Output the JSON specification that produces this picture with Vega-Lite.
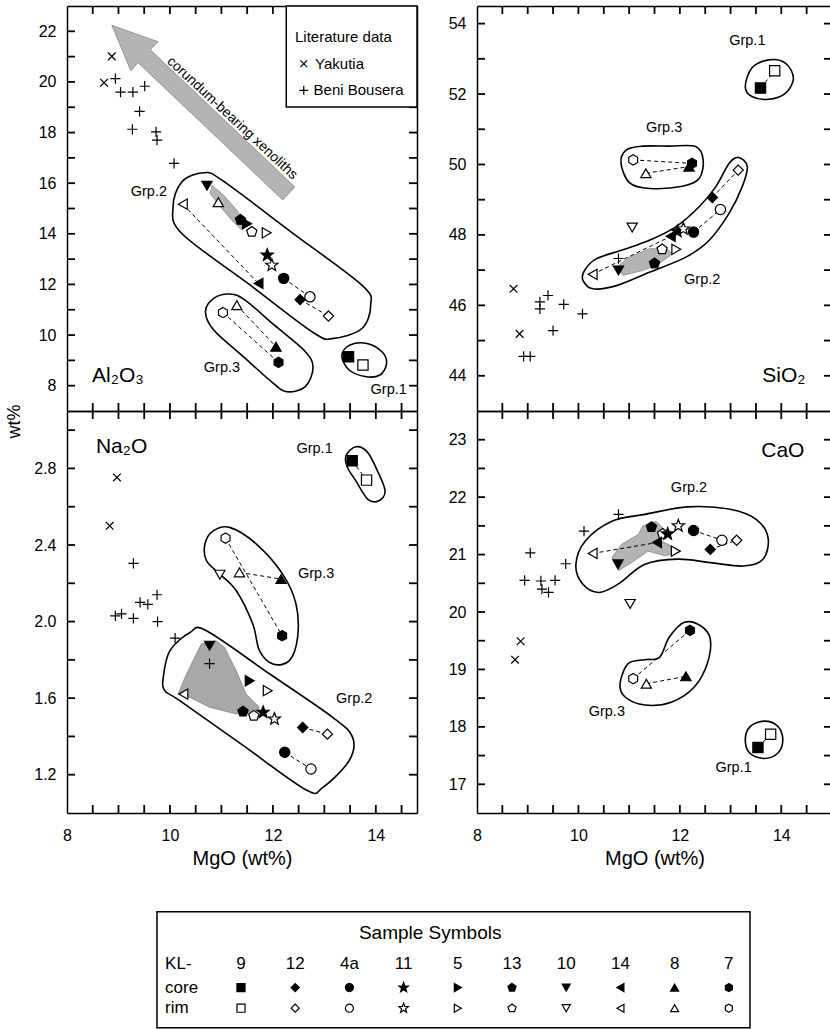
{
"$schema":"https://vega.github.io/schema/vega-lite/v6.json",
"padding":{"left":5,"top":5,"right":0,"bottom":0},
"background":"white",
"config":{
 "font":"Liberation Sans",
 "view":{"stroke":null},
 "axis":{"domainColor":"black","domainWidth":1.5,"tickColor":"black","tickWidth":1.4,"labelFont":"Liberation Sans","labelFontSize":16,"labelColor":"black","labelOverlap":false,"labelFlush":false,"grid":false,"zindex":1,"titleFont":"Liberation Sans","titleFontSize":20,"titleFontWeight":"normal","titleColor":"black"},
 "axisY":{"labelPadding":11},
 "axisX":{"labelPadding":14},
 "text":{"font":"Liberation Sans","color":"black"}
},
"datasets":{
"xt":[{"v":8.5},{"v":9},{"v":9.5},{"v":10},{"v":10.5},{"v":11},{"v":11.5},{"v":12},{"v":12.5},{"v":13},{"v":13.5},{"v":14},{"v":14.5}],
"yt":[
{"p":"Al","v":8},{"p":"Al","v":9},{"p":"Al","v":10},{"p":"Al","v":11},{"p":"Al","v":12},{"p":"Al","v":13},{"p":"Al","v":14},{"p":"Al","v":15},{"p":"Al","v":16},{"p":"Al","v":17},{"p":"Al","v":18},{"p":"Al","v":19},{"p":"Al","v":20},{"p":"Al","v":21},{"p":"Al","v":22},
{"p":"Si","v":44},{"p":"Si","v":45},{"p":"Si","v":46},{"p":"Si","v":47},{"p":"Si","v":48},{"p":"Si","v":49},{"p":"Si","v":50},{"p":"Si","v":51},{"p":"Si","v":52},{"p":"Si","v":53},{"p":"Si","v":54},
{"p":"Na","v":1.2},{"p":"Na","v":1.4},{"p":"Na","v":1.6},{"p":"Na","v":1.8},{"p":"Na","v":2.0},{"p":"Na","v":2.2},{"p":"Na","v":2.4},{"p":"Na","v":2.6},{"p":"Na","v":2.8},{"p":"Na","v":3.0},
{"p":"Ca","v":17},{"p":"Ca","v":17.5},{"p":"Ca","v":18},{"p":"Ca","v":18.5},{"p":"Ca","v":19},{"p":"Ca","v":19.5},{"p":"Ca","v":20},{"p":"Ca","v":20.5},{"p":"Ca","v":21},{"p":"Ca","v":21.5},{"p":"Ca","v":22},{"p":"Ca","v":22.5},{"p":"Ca","v":23}
],
"pts":[
{"p":"Al","s":"Yakutia","t":"lit","x":8.87,"y":21.01},{"p":"Al","s":"Yakutia","t":"lit","x":8.72,"y":19.97},
{"p":"Al","s":"Beni","t":"lit","x":8.94,"y":20.13},{"p":"Al","s":"Beni","t":"lit","x":9.04,"y":19.6},{"p":"Al","s":"Beni","t":"lit","x":9.28,"y":19.6},{"p":"Al","s":"Beni","t":"lit","x":9.51,"y":19.83},{"p":"Al","s":"Beni","t":"lit","x":9.41,"y":18.84},{"p":"Al","s":"Beni","t":"lit","x":9.27,"y":18.13},{"p":"Al","s":"Beni","t":"lit","x":9.73,"y":18.03},{"p":"Al","s":"Beni","t":"lit","x":9.75,"y":17.7},{"p":"Al","s":"Beni","t":"lit","x":10.08,"y":16.78},
{"p":"Al","s":"9","t":"core","x":13.47,"y":9.14},{"p":"Al","s":"9","t":"rim","x":13.75,"y":8.82},
{"p":"Al","s":"7","t":"rim","x":11.03,"y":10.89},{"p":"Al","s":"7","t":"core","x":12.11,"y":8.92},{"p":"Al","s":"8","t":"rim","x":11.3,"y":11.18},{"p":"Al","s":"8","t":"core","x":12.06,"y":9.54},
{"p":"Al","s":"10","t":"core","x":10.72,"y":15.9},{"p":"Al","s":"8","t":"rim","x":10.94,"y":15.25},{"p":"Al","s":"14","t":"rim","x":10.25,"y":15.17},{"p":"Al","s":"14","t":"core","x":11.72,"y":12.04},{"p":"Al","s":"13","t":"core","x":11.37,"y":14.55},{"p":"Al","s":"5","t":"core","x":11.5,"y":14.4},{"p":"Al","s":"13","t":"rim","x":11.59,"y":14.08},{"p":"Al","s":"5","t":"rim","x":11.88,"y":14.04},{"p":"Al","s":"11","t":"core","x":11.89,"y":13.16},{"p":"Al","s":"11","t":"rim","x":11.98,"y":12.76},{"p":"Al","s":"4a","t":"core","x":12.21,"y":12.24},{"p":"Al","s":"4a","t":"rim","x":12.72,"y":11.51},{"p":"Al","s":"12","t":"core","x":12.53,"y":11.4},{"p":"Al","s":"12","t":"rim","x":13.08,"y":10.75},
{"p":"Si","s":"Yakutia","t":"lit","x":8.72,"y":46.47},{"p":"Si","s":"Yakutia","t":"lit","x":8.84,"y":45.19},
{"p":"Si","s":"Beni","t":"lit","x":9.24,"y":46.1},{"p":"Si","s":"Beni","t":"lit","x":9.24,"y":45.9},{"p":"Si","s":"Beni","t":"lit","x":9.4,"y":46.28},{"p":"Si","s":"Beni","t":"lit","x":9.71,"y":46.03},{"p":"Si","s":"Beni","t":"lit","x":10.08,"y":45.76},{"p":"Si","s":"Beni","t":"lit","x":9.5,"y":45.28},{"p":"Si","s":"Beni","t":"lit","x":8.92,"y":44.55},{"p":"Si","s":"Beni","t":"lit","x":9.05,"y":44.55},{"p":"Si","s":"Beni","t":"lit","x":10.79,"y":47.33},
{"p":"Si","s":"9","t":"core","x":13.59,"y":52.17},{"p":"Si","s":"9","t":"rim","x":13.87,"y":52.66},
{"p":"Si","s":"7","t":"rim","x":11.08,"y":50.13},{"p":"Si","s":"8","t":"core","x":12.18,"y":49.94},{"p":"Si","s":"7","t":"core","x":12.24,"y":50.03},{"p":"Si","s":"8","t":"rim","x":11.33,"y":49.75},
{"p":"Si","s":"14","t":"rim","x":10.28,"y":46.88},{"p":"Si","s":"10","t":"core","x":10.79,"y":46.99},{"p":"Si","s":"13","t":"core","x":11.5,"y":47.19},{"p":"Si","s":"13","t":"rim","x":11.65,"y":47.59},{"p":"Si","s":"5","t":"rim","x":11.93,"y":47.59},{"p":"Si","s":"14","t":"core","x":11.82,"y":47.96},{"p":"Si","s":"11","t":"core","x":11.95,"y":48.1},{"p":"Si","s":"11","t":"rim","x":12.07,"y":48.17},{"p":"Si","s":"4a","t":"core","x":12.27,"y":48.08},{"p":"Si","s":"4a","t":"rim","x":12.8,"y":48.72},{"p":"Si","s":"12","t":"core","x":12.64,"y":49.06},{"p":"Si","s":"12","t":"rim","x":13.15,"y":49.84},{"p":"Si","s":"10","t":"rim","x":11.06,"y":48.21},
{"p":"Na","s":"Yakutia","t":"lit","x":8.97,"y":2.753},{"p":"Na","s":"Yakutia","t":"lit","x":8.83,"y":2.5},
{"p":"Na","s":"Beni","t":"lit","x":9.29,"y":2.304},{"p":"Na","s":"Beni","t":"lit","x":8.94,"y":2.03},{"p":"Na","s":"Beni","t":"lit","x":9.06,"y":2.04},{"p":"Na","s":"Beni","t":"lit","x":9.29,"y":2.017},{"p":"Na","s":"Beni","t":"lit","x":9.42,"y":2.1},{"p":"Na","s":"Beni","t":"lit","x":9.57,"y":2.09},{"p":"Na","s":"Beni","t":"lit","x":9.75,"y":2.14},{"p":"Na","s":"Beni","t":"lit","x":9.76,"y":2.0},{"p":"Na","s":"Beni","t":"lit","x":10.1,"y":1.914},{"p":"Na","s":"Beni","t":"lit","x":10.77,"y":1.78},
{"p":"Na","s":"9","t":"core","x":13.54,"y":2.84},{"p":"Na","s":"9","t":"rim","x":13.82,"y":2.739},
{"p":"Na","s":"7","t":"rim","x":11.08,"y":2.436},{"p":"Na","s":"7","t":"core","x":12.18,"y":1.926},{"p":"Na","s":"10","t":"rim","x":10.97,"y":2.245},{"p":"Na","s":"8","t":"rim","x":11.35,"y":2.257},{"p":"Na","s":"8","t":"core","x":12.16,"y":2.222},
{"p":"Na","s":"10","t":"core","x":10.77,"y":1.874},{"p":"Na","s":"14","t":"rim","x":10.26,"y":1.621},{"p":"Na","s":"5","t":"core","x":11.55,"y":1.691},{"p":"Na","s":"5","t":"rim","x":11.9,"y":1.639},{"p":"Na","s":"13","t":"core","x":11.42,"y":1.53},{"p":"Na","s":"13","t":"rim","x":11.63,"y":1.508},{"p":"Na","s":"11","t":"core","x":11.81,"y":1.526},{"p":"Na","s":"11","t":"rim","x":12.03,"y":1.491},{"p":"Na","s":"12","t":"core","x":12.58,"y":1.447},{"p":"Na","s":"12","t":"rim","x":13.06,"y":1.412},{"p":"Na","s":"4a","t":"core","x":12.23,"y":1.317},{"p":"Na","s":"4a","t":"rim","x":12.74,"y":1.23},
{"p":"Ca","s":"Yakutia","t":"lit","x":8.75,"y":19.17},{"p":"Ca","s":"Yakutia","t":"lit","x":8.86,"y":19.49},
{"p":"Ca","s":"Beni","t":"lit","x":8.94,"y":20.55},{"p":"Ca","s":"Beni","t":"lit","x":9.05,"y":21.03},{"p":"Ca","s":"Beni","t":"lit","x":9.26,"y":20.54},{"p":"Ca","s":"Beni","t":"lit","x":9.28,"y":20.4},{"p":"Ca","s":"Beni","t":"lit","x":9.41,"y":20.34},{"p":"Ca","s":"Beni","t":"lit","x":9.54,"y":20.55},{"p":"Ca","s":"Beni","t":"lit","x":9.75,"y":20.84},{"p":"Ca","s":"Beni","t":"lit","x":10.11,"y":21.41},{"p":"Ca","s":"Beni","t":"lit","x":10.79,"y":21.7},
{"p":"Ca","s":"9","t":"core","x":13.54,"y":17.64},{"p":"Ca","s":"9","t":"rim","x":13.79,"y":17.87},
{"p":"Ca","s":"7","t":"core","x":12.2,"y":19.68},{"p":"Ca","s":"7","t":"rim","x":11.08,"y":18.84},{"p":"Ca","s":"8","t":"rim","x":11.34,"y":18.75},{"p":"Ca","s":"8","t":"core","x":12.12,"y":18.88},{"p":"Ca","s":"10","t":"rim","x":11.02,"y":20.14},
{"p":"Ca","s":"14","t":"rim","x":10.28,"y":21.02},{"p":"Ca","s":"10","t":"core","x":10.78,"y":20.83},{"p":"Ca","s":"13","t":"core","x":11.44,"y":21.48},{"p":"Ca","s":"13","t":"rim","x":11.66,"y":21.36},{"p":"Ca","s":"14","t":"core","x":11.55,"y":21.21},{"p":"Ca","s":"11","t":"core","x":11.76,"y":21.36},{"p":"Ca","s":"11","t":"rim","x":11.97,"y":21.5},{"p":"Ca","s":"4a","t":"core","x":12.27,"y":21.42},{"p":"Ca","s":"4a","t":"rim","x":12.83,"y":21.25},{"p":"Ca","s":"12","t":"rim","x":13.12,"y":21.25},{"p":"Ca","s":"12","t":"core","x":12.6,"y":21.09},{"p":"Ca","s":"5","t":"rim","x":11.92,"y":21.06}
],
"ties":[
{"p":"Al","id":"a1","x":10.25,"y":15.17},{"p":"Al","id":"a1","x":11.72,"y":12.04},
{"p":"Al","id":"a2","x":12.21,"y":12.24},{"p":"Al","id":"a2","x":12.72,"y":11.51},
{"p":"Al","id":"a3","x":12.53,"y":11.4},{"p":"Al","id":"a3","x":13.08,"y":10.75},
{"p":"Al","id":"a4","x":11.03,"y":10.89},{"p":"Al","id":"a4","x":12.11,"y":8.92},
{"p":"Al","id":"a5","x":11.3,"y":11.18},{"p":"Al","id":"a5","x":12.06,"y":9.54},
{"p":"Si","id":"s1","x":13.59,"y":52.17},{"p":"Si","id":"s1","x":13.87,"y":52.66},
{"p":"Si","id":"s2","x":11.08,"y":50.13},{"p":"Si","id":"s2","x":12.24,"y":50.03},
{"p":"Si","id":"s3","x":11.33,"y":49.75},{"p":"Si","id":"s3","x":12.18,"y":49.94},
{"p":"Si","id":"s4","x":10.28,"y":46.88},{"p":"Si","id":"s4","x":11.82,"y":47.96},
{"p":"Si","id":"s5","x":12.27,"y":48.08},{"p":"Si","id":"s5","x":12.8,"y":48.72},
{"p":"Si","id":"s6","x":12.64,"y":49.06},{"p":"Si","id":"s6","x":13.15,"y":49.84},
{"p":"Na","id":"n1","x":13.54,"y":2.84},{"p":"Na","id":"n1","x":13.82,"y":2.739},
{"p":"Na","id":"n2","x":11.08,"y":2.436},{"p":"Na","id":"n2","x":12.18,"y":1.926},
{"p":"Na","id":"n3","x":11.35,"y":2.257},{"p":"Na","id":"n3","x":12.16,"y":2.222},
{"p":"Na","id":"n4","x":12.58,"y":1.447},{"p":"Na","id":"n4","x":13.06,"y":1.412},
{"p":"Na","id":"n5","x":12.23,"y":1.317},{"p":"Na","id":"n5","x":12.74,"y":1.23},
{"p":"Ca","id":"c1","x":13.54,"y":17.64},{"p":"Ca","id":"c1","x":13.79,"y":17.87},
{"p":"Ca","id":"c2","x":12.2,"y":19.68},{"p":"Ca","id":"c2","x":11.08,"y":18.84},
{"p":"Ca","id":"c3","x":11.34,"y":18.75},{"p":"Ca","id":"c3","x":12.12,"y":18.88},
{"p":"Ca","id":"c4","x":10.28,"y":21.02},{"p":"Ca","id":"c4","x":11.55,"y":21.21},
{"p":"Ca","id":"c5","x":12.27,"y":21.42},{"p":"Ca","id":"c5","x":12.83,"y":21.25},
{"p":"Ca","id":"c6","x":12.6,"y":21.09},{"p":"Ca","id":"c6","x":13.12,"y":21.25}
],
"env":[
{"p":"Al","id":"A2","o":0,"x":10.06,"y":15.07},{"p":"Al","id":"A2","o":1,"x":10.23,"y":16.05},{"p":"Al","id":"A2","o":2,"x":10.65,"y":16.41},{"p":"Al","id":"A2","o":3,"x":11.01,"y":16.12},{"p":"Al","id":"A2","o":4,"x":12.37,"y":14.05},{"p":"Al","id":"A2","o":5,"x":13.73,"y":11.97},{"p":"Al","id":"A2","o":6,"x":13.9,"y":11.18},{"p":"Al","id":"A2","o":7,"x":13.73,"y":10.26},{"p":"Al","id":"A2","o":8,"x":13.18,"y":9.87},{"p":"Al","id":"A2","o":9,"x":12.79,"y":10.09},{"p":"Al","id":"A2","o":10,"x":11.51,"y":12.05},{"p":"Al","id":"A2","o":11,"x":10.23,"y":14.01},
{"p":"Al","id":"A3","o":0,"x":10.69,"y":10.92},{"p":"Al","id":"A3","o":1,"x":10.85,"y":11.45},{"p":"Al","id":"A3","o":2,"x":11.17,"y":11.62},{"p":"Al","id":"A3","o":3,"x":11.46,"y":11.38},{"p":"Al","id":"A3","o":4,"x":12.03,"y":10.39},{"p":"Al","id":"A3","o":5,"x":12.6,"y":9.41},{"p":"Al","id":"A3","o":6,"x":12.78,"y":8.75},{"p":"Al","id":"A3","o":7,"x":12.63,"y":7.96},{"p":"Al","id":"A3","o":8,"x":12.27,"y":7.76},{"p":"Al","id":"A3","o":9,"x":12.01,"y":8.09},{"p":"Al","id":"A3","o":10,"x":11.43,"y":9.14},{"p":"Al","id":"A3","o":11,"x":10.85,"y":10.2},
{"p":"Al","id":"A1","o":0,"x":13.34,"y":9.21},{"p":"Al","id":"A1","o":1,"x":13.5,"y":9.61},{"p":"Al","id":"A1","o":2,"x":13.83,"y":9.67},{"p":"Al","id":"A1","o":3,"x":14.12,"y":9.34},{"p":"Al","id":"A1","o":4,"x":14.21,"y":8.88},{"p":"Al","id":"A1","o":5,"x":14.08,"y":8.42},{"p":"Al","id":"A1","o":6,"x":13.79,"y":8.36},{"p":"Al","id":"A1","o":7,"x":13.47,"y":8.64},
{"p":"Si","id":"S1","o":0,"x":13.29,"y":52.21},{"p":"Si","id":"S1","o":1,"x":13.42,"y":52.74},{"p":"Si","id":"S1","o":2,"x":13.75,"y":52.97},{"p":"Si","id":"S1","o":3,"x":14.08,"y":52.88},{"p":"Si","id":"S1","o":4,"x":14.24,"y":52.45},{"p":"Si","id":"S1","o":5,"x":14.08,"y":52.02},{"p":"Si","id":"S1","o":6,"x":13.75,"y":51.85},{"p":"Si","id":"S1","o":7,"x":13.42,"y":51.93},
{"p":"Si","id":"S3","o":0,"x":10.84,"y":50.03},{"p":"Si","id":"S3","o":1,"x":10.94,"y":50.41},{"p":"Si","id":"S3","o":2,"x":11.27,"y":50.52},{"p":"Si","id":"S3","o":3,"x":11.79,"y":50.52},{"p":"Si","id":"S3","o":4,"x":12.31,"y":50.51},{"p":"Si","id":"S3","o":5,"x":12.46,"y":50.13},{"p":"Si","id":"S3","o":6,"x":12.38,"y":49.6},{"p":"Si","id":"S3","o":7,"x":12.05,"y":49.38},{"p":"Si","id":"S3","o":8,"x":11.4,"y":49.32},{"p":"Si","id":"S3","o":9,"x":11.01,"y":49.48},
{"p":"Si","id":"S2","o":0,"x":10.12,"y":46.99},{"p":"Si","id":"S2","o":1,"x":10.35,"y":47.32},{"p":"Si","id":"S2","o":2,"x":10.88,"y":47.58},{"p":"Si","id":"S2","o":3,"x":11.4,"y":47.85},{"p":"Si","id":"S2","o":4,"x":11.92,"y":48.23},{"p":"Si","id":"S2","o":5,"x":12.38,"y":48.8},{"p":"Si","id":"S2","o":6,"x":12.71,"y":49.37},{"p":"Si","id":"S2","o":7,"x":12.97,"y":50.03},{"p":"Si","id":"S2","o":8,"x":13.16,"y":50.2},{"p":"Si","id":"S2","o":9,"x":13.33,"y":49.94},{"p":"Si","id":"S2","o":10,"x":13.23,"y":49.37},{"p":"Si","id":"S2","o":11,"x":12.97,"y":48.61},{"p":"Si","id":"S2","o":12,"x":12.58,"y":47.85},{"p":"Si","id":"S2","o":13,"x":12.12,"y":47.37},{"p":"Si","id":"S2","o":14,"x":11.4,"y":46.94},{"p":"Si","id":"S2","o":15,"x":10.75,"y":46.56},{"p":"Si","id":"S2","o":16,"x":10.29,"y":46.47},{"p":"Si","id":"S2","o":17,"x":10.09,"y":46.71},
{"p":"Na","id":"N1","o":0,"x":13.42,"y":2.866},{"p":"Na","id":"N1","o":1,"x":13.61,"y":2.913},{"p":"Na","id":"N1","o":2,"x":13.84,"y":2.884},{"p":"Na","id":"N1","o":3,"x":14.03,"y":2.788},{"p":"Na","id":"N1","o":4,"x":14.18,"y":2.683},{"p":"Na","id":"N1","o":5,"x":14.06,"y":2.631},{"p":"Na","id":"N1","o":6,"x":13.84,"y":2.64},{"p":"Na","id":"N1","o":7,"x":13.61,"y":2.736},{"p":"Na","id":"N1","o":8,"x":13.45,"y":2.805},
{"p":"Na","id":"N3","o":0,"x":10.68,"y":2.405},{"p":"Na","id":"N3","o":1,"x":10.84,"y":2.474},{"p":"Na","id":"N3","o":2,"x":11.16,"y":2.492},{"p":"Na","id":"N3","o":3,"x":11.68,"y":2.405},{"p":"Na","id":"N3","o":4,"x":12.19,"y":2.248},{"p":"Na","id":"N3","o":5,"x":12.45,"y":2.091},{"p":"Na","id":"N3","o":6,"x":12.48,"y":1.917},{"p":"Na","id":"N3","o":7,"x":12.32,"y":1.796},{"p":"Na","id":"N3","o":8,"x":12.0,"y":1.778},{"p":"Na","id":"N3","o":9,"x":11.74,"y":1.848},{"p":"Na","id":"N3","o":10,"x":11.61,"y":1.987},{"p":"Na","id":"N3","o":11,"x":11.29,"y":2.161},{"p":"Na","id":"N3","o":12,"x":10.97,"y":2.248},{"p":"Na","id":"N3","o":13,"x":10.71,"y":2.318},
{"p":"Na","id":"N2","o":0,"x":9.87,"y":1.708},{"p":"Na","id":"N2","o":1,"x":10.0,"y":1.848},{"p":"Na","id":"N2","o":2,"x":10.39,"y":1.943},{"p":"Na","id":"N2","o":3,"x":10.71,"y":1.952},{"p":"Na","id":"N2","o":4,"x":11.94,"y":1.726},{"p":"Na","id":"N2","o":5,"x":13.16,"y":1.5},{"p":"Na","id":"N2","o":6,"x":13.55,"y":1.395},{"p":"Na","id":"N2","o":7,"x":13.48,"y":1.273},{"p":"Na","id":"N2","o":8,"x":12.97,"y":1.134},{"p":"Na","id":"N2","o":9,"x":12.65,"y":1.12},{"p":"Na","id":"N2","o":10,"x":11.42,"y":1.353},{"p":"Na","id":"N2","o":11,"x":10.19,"y":1.587},{"p":"Na","id":"N2","o":12,"x":9.9,"y":1.639},
{"p":"Ca","id":"C2","o":0,"x":9.95,"y":20.83},{"p":"Ca","id":"C2","o":1,"x":10.14,"y":21.24},{"p":"Ca","id":"C2","o":2,"x":10.66,"y":21.58},{"p":"Ca","id":"C2","o":3,"x":11.31,"y":21.7},{"p":"Ca","id":"C2","o":4,"x":12.15,"y":21.83},{"p":"Ca","id":"C2","o":5,"x":12.99,"y":21.79},{"p":"Ca","id":"C2","o":6,"x":13.51,"y":21.61},{"p":"Ca","id":"C2","o":7,"x":13.74,"y":21.29},{"p":"Ca","id":"C2","o":8,"x":13.64,"y":20.92},{"p":"Ca","id":"C2","o":9,"x":13.25,"y":20.8},{"p":"Ca","id":"C2","o":10,"x":12.6,"y":20.86},{"p":"Ca","id":"C2","o":11,"x":11.96,"y":20.92},{"p":"Ca","id":"C2","o":12,"x":11.31,"y":20.83},{"p":"Ca","id":"C2","o":13,"x":10.79,"y":20.49},{"p":"Ca","id":"C2","o":14,"x":10.4,"y":20.34},{"p":"Ca","id":"C2","o":15,"x":10.08,"y":20.49},
{"p":"Ca","id":"C3","o":0,"x":10.82,"y":18.75},{"p":"Ca","id":"C3","o":1,"x":10.98,"y":19.1},{"p":"Ca","id":"C3","o":2,"x":11.31,"y":19.17},{"p":"Ca","id":"C3","o":3,"x":11.6,"y":19.21},{"p":"Ca","id":"C3","o":4,"x":11.79,"y":19.56},{"p":"Ca","id":"C3","o":5,"x":12.09,"y":19.82},{"p":"Ca","id":"C3","o":6,"x":12.41,"y":19.76},{"p":"Ca","id":"C3","o":7,"x":12.6,"y":19.53},{"p":"Ca","id":"C3","o":8,"x":12.54,"y":19.1},{"p":"Ca","id":"C3","o":9,"x":12.28,"y":18.69},{"p":"Ca","id":"C3","o":10,"x":11.83,"y":18.43},{"p":"Ca","id":"C3","o":11,"x":11.31,"y":18.38},{"p":"Ca","id":"C3","o":12,"x":10.92,"y":18.52},
{"p":"Ca","id":"C1","o":0,"x":13.29,"y":17.77},{"p":"Ca","id":"C1","o":1,"x":13.38,"y":18.0},{"p":"Ca","id":"C1","o":2,"x":13.66,"y":18.1},{"p":"Ca","id":"C1","o":3,"x":13.93,"y":18.01},{"p":"Ca","id":"C1","o":4,"x":14.03,"y":17.77},{"p":"Ca","id":"C1","o":5,"x":13.93,"y":17.54},{"p":"Ca","id":"C1","o":6,"x":13.66,"y":17.45},{"p":"Ca","id":"C1","o":7,"x":13.38,"y":17.54}
],
"shade":[
{"p":"Al","id":"arrow","o":0,"x":8.87,"y":22.24},{"p":"Al","id":"arrow","o":1,"x":9.77,"y":21.59},{"p":"Al","id":"arrow","o":2,"x":9.62,"y":21.27},{"p":"Al","id":"arrow","o":3,"x":12.43,"y":15.85},{"p":"Al","id":"arrow","o":4,"x":12.19,"y":15.34},{"p":"Al","id":"arrow","o":5,"x":9.38,"y":20.76},{"p":"Al","id":"arrow","o":6,"x":9.24,"y":20.44},
{"p":"Al","id":"ab","o":0,"x":10.82,"y":15.92},{"p":"Al","id":"ab","o":1,"x":11.04,"y":15.53},{"p":"Al","id":"ab","o":2,"x":11.3,"y":14.93},{"p":"Al","id":"ab","o":3,"x":11.46,"y":14.41},{"p":"Al","id":"ab","o":4,"x":11.4,"y":14.14},{"p":"Al","id":"ab","o":5,"x":11.2,"y":14.54},{"p":"Al","id":"ab","o":6,"x":10.98,"y":15.07},{"p":"Al","id":"ab","o":7,"x":10.78,"y":15.59},
{"p":"Si","id":"sb","o":0,"x":10.75,"y":47.09},{"p":"Si","id":"sb","o":1,"x":11.01,"y":47.37},{"p":"Si","id":"sb","o":2,"x":11.4,"y":47.61},{"p":"Si","id":"sb","o":3,"x":11.73,"y":47.61},{"p":"Si","id":"sb","o":4,"x":11.86,"y":47.47},{"p":"Si","id":"sb","o":5,"x":11.59,"y":47.18},{"p":"Si","id":"sb","o":6,"x":11.27,"y":46.99},{"p":"Si","id":"sb","o":7,"x":10.88,"y":46.85},
{"p":"Na","id":"nb","o":0,"x":10.61,"y":1.883},{"p":"Na","id":"nb","o":1,"x":10.9,"y":1.9},{"p":"Na","id":"nb","o":2,"x":11.06,"y":1.865},{"p":"Na","id":"nb","o":3,"x":11.29,"y":1.743},{"p":"Na","id":"nb","o":4,"x":11.48,"y":1.621},{"p":"Na","id":"nb","o":5,"x":11.74,"y":1.552},{"p":"Na","id":"nb","o":6,"x":11.68,"y":1.526},{"p":"Na","id":"nb","o":7,"x":11.29,"y":1.517},{"p":"Na","id":"nb","o":8,"x":10.77,"y":1.552},{"p":"Na","id":"nb","o":9,"x":10.39,"y":1.604},{"p":"Na","id":"nb","o":10,"x":10.16,"y":1.621},{"p":"Na","id":"nb","o":11,"x":10.29,"y":1.708},{"p":"Na","id":"nb","o":12,"x":10.48,"y":1.813},
{"p":"Ca","id":"cb","o":0,"x":10.66,"y":20.95},{"p":"Ca","id":"cb","o":1,"x":10.85,"y":21.18},{"p":"Ca","id":"cb","o":2,"x":11.18,"y":21.35},{"p":"Ca","id":"cb","o":3,"x":11.27,"y":21.5},{"p":"Ca","id":"cb","o":4,"x":11.53,"y":21.58},{"p":"Ca","id":"cb","o":5,"x":11.73,"y":21.41},{"p":"Ca","id":"cb","o":6,"x":11.63,"y":21.24},{"p":"Ca","id":"cb","o":7,"x":11.83,"y":21.15},{"p":"Ca","id":"cb","o":8,"x":11.89,"y":21.01},{"p":"Ca","id":"cb","o":9,"x":11.7,"y":20.98},{"p":"Ca","id":"cb","o":10,"x":11.37,"y":21.06},{"p":"Ca","id":"cb","o":11,"x":11.05,"y":20.86},{"p":"Ca","id":"cb","o":12,"x":10.79,"y":20.72}
],
"lab":[
{"p":"Al","k":"grp","txt":"Grp.2","x":9.59,"y":15.66},{"p":"Al","k":"grp","txt":"Grp.3","x":11.01,"y":8.68},{"p":"Al","k":"grp","txt":"Grp.1","x":14.25,"y":7.83},{"p":"Al","k":"panel","txt":"Al₂O₃","x":8.99,"y":8.4},
{"p":"Si","k":"grp","txt":"Grp.1","x":13.33,"y":53.5},{"p":"Si","k":"grp","txt":"Grp.3","x":11.69,"y":51.03},{"p":"Si","k":"grp","txt":"Grp.2","x":12.44,"y":46.71},{"p":"Si","k":"panel","txt":"SiO₂","x":14.05,"y":44.0},
{"p":"Na","k":"grp","txt":"Grp.1","x":12.81,"y":2.9},{"p":"Na","k":"grp","txt":"Grp.3","x":12.84,"y":2.248},{"p":"Na","k":"grp","txt":"Grp.2","x":13.58,"y":1.595},{"p":"Na","k":"panel","txt":"Na₂O","x":9.06,"y":2.91},
{"p":"Ca","k":"grp","txt":"Grp.2","x":12.18,"y":22.16},{"p":"Ca","k":"grp","txt":"Grp.3","x":10.56,"y":18.26},{"p":"Ca","k":"grp","txt":"Grp.1","x":13.06,"y":17.28},{"p":"Ca","k":"panel","txt":"CaO","x":14.03,"y":22.81}
],
"samples":[{"s":"9","c":1},{"s":"12","c":2},{"s":"4a","c":3},{"s":"11","c":4},{"s":"5","c":5},{"s":"13","c":6},{"s":"10","c":7},{"s":"14","c":8},{"s":"8","c":9},{"s":"7","c":10}]
},
"concat":[
{"width":350,"height":405,
 "layer":[
  {"data":{"name":"shade"},"transform":[{"filter":"datum.p=='Al'"}],"mark":{"type":"line","interpolate":"linear-closed","filled":true,"color":"#b4b4b4","fill":"#b4b4b4","stroke":"#707070","strokeWidth":0.6},
   "encoding":{"x":{"field":"x","type":"quantitative","scale":{"domain":[8,14.8],"nice":false,"zero":false},"axis":{"orient":"bottom","values":[8,8.5,9,9.5,10,10.5,11,11.5,12,12.5,13,13.5,14,14.5],"labels":false,"ticks":false,"tickSize":0,"title":null}},
   "y":{"field":"y","type":"quantitative","scale":{"domain":[7,23],"nice":false,"zero":false},"axis":{"orient":"left","values":[8,9,10,11,12,13,14,15,16,17,18,19,20,21,22],"labelExpr":"datum.value % 2 == 0 ? format(datum.value,'d') : ''","ticks":false,"tickSize":0,"title":"wt%","titleX":-53,"titleY":415,"titleAngle":-90,"titleAlign":"center","titleBaseline":"middle","titleFontSize":18}},
   "detail":{"field":"id"},"order":{"field":"o"}}},
  {"data":{"name":"env"},"transform":[{"filter":"datum.p=='Al'"}],"mark":{"type":"line","interpolate":"cardinal-closed","color":"black","strokeWidth":1.6},
   "encoding":{"x":{"field":"x","type":"quantitative","axis":{"orient":"top","labels":false,"ticks":false,"title":null}},
   "y":{"field":"y","type":"quantitative","axis":{"orient":"right","labels":false,"ticks":false,"title":null}},"detail":{"field":"id"},"order":{"field":"o"}}},
  {"data":{"name":"xt"},"mark":{"type":"rule","color":"black","strokeWidth":1.8},"encoding":{"x":{"field":"v","type":"quantitative","axis":null},"y":{"datum":7,"type":"quantitative","axis":null},"y2":{"datum":7.316}}},
  {"data":{"name":"xt"},"mark":{"type":"rule","color":"black","strokeWidth":1.8},"encoding":{"x":{"field":"v","type":"quantitative","axis":null},"y":{"datum":23,"type":"quantitative","axis":null},"y2":{"datum":22.684}}},
  {"data":{"name":"yt"},"transform":[{"filter":"datum.p=='Al'"}],"mark":{"type":"rule","color":"black","strokeWidth":1.8},"encoding":{"y":{"field":"v","type":"quantitative","axis":null},"x":{"datum":8,"type":"quantitative","axis":null},"x2":{"datum":8.155}}},
  {"data":{"name":"yt"},"transform":[{"filter":"datum.p=='Al'"}],"mark":{"type":"rule","color":"black","strokeWidth":1.8},"encoding":{"y":{"field":"v","type":"quantitative","axis":null},"x":{"datum":14.8,"type":"quantitative","axis":null},"x2":{"datum":14.645}}},
  {"data":{"name":"ties"},"transform":[{"filter":"datum.p=='Al'"}],"mark":{"type":"line","color":"black","strokeWidth":1,"strokeDash":[4,3]},
   "encoding":{"x":{"field":"x","type":"quantitative","axis":null},"y":{"field":"y","type":"quantitative","axis":null},"detail":{"field":"id"}}},
  {"data":{"name":"pts"},"transform":[{"filter":"datum.p=='Al'"}],"mark":{"type":"point","opacity":1,"stroke":"black","strokeWidth":1.2,"size":105},
   "encoding":{"x":{"field":"x","type":"quantitative","axis":null},"y":{"field":"y","type":"quantitative","axis":null},
   "shape":{"field":"s","type":"nominal","scale":{"domain":["9","12","4a","11","5","13","10","14","8","7","Yakutia","Beni"],"range":["square","diamond","circle","M0,-1.25L0.309,-0.425L1.189,-0.386L0.499,0.163L0.735,1.011L0,0.525L-0.735,1.011L-0.499,0.163L-1.189,-0.386L-0.309,-0.425Z","triangle-right","M0,-1.05L1,-0.32L0.62,0.85L-0.62,0.85L-1,-0.32Z","triangle-down","triangle-left","triangle-up","M0,-1L0.866,-0.5L0.866,0.5L0,1L-0.866,0.5L-0.866,-0.5Z","M-0.75,-0.75L0.75,0.75M0.75,-0.75L-0.75,0.75","M-1,0L1,0M0,-1L0,1"]},"legend":null},
   "fill":{"field":"t","type":"nominal","scale":{"domain":["core","rim","lit"],"range":["black","white","black"]},"legend":null}}},
  {"data":{"name":"lab"},"transform":[{"filter":"datum.p=='Al' && datum.k=='grp'"}],"mark":{"type":"text","fontSize":14.5,"align":"center","baseline":"middle"},
   "encoding":{"x":{"field":"x","type":"quantitative","axis":null},"y":{"field":"y","type":"quantitative","axis":null},"text":{"field":"txt"}}},
  {"data":{"name":"lab"},"transform":[{"filter":"datum.p=='Al' && datum.k=='panel'"}],"mark":{"type":"text","fontSize":21,"align":"center","baseline":"middle"},
   "encoding":{"x":{"field":"x","type":"quantitative","axis":null},"y":{"field":"y","type":"quantitative","axis":null},"text":{"field":"txt"}}},
  {"data":{"values":[{"x":12.26,"x2":14.8,"y":19.01,"y2":23}]},"mark":{"type":"rect","fill":"white","stroke":"black","strokeWidth":1.5},
   "encoding":{"x":{"field":"x","type":"quantitative","axis":null},"x2":{"field":"x2"},"y":{"field":"y","type":"quantitative","axis":null},"y2":{"field":"y2"}}},
  {"data":{"values":[{"txt":"Literature data","x":12.43,"y":21.78},{"txt":"Yakutia","x":12.82,"y":20.72},{"txt":"Beni Bousera","x":12.79,"y":19.67}]},"mark":{"type":"text","fontSize":15,"align":"left","baseline":"middle"},
   "encoding":{"x":{"field":"x","type":"quantitative","axis":null},"y":{"field":"y","type":"quantitative","axis":null},"text":{"field":"txt"}}},
  {"data":{"values":[{"s":"Yakutia","t":"lit","x":12.6,"y":20.72},{"s":"Beni","t":"lit","x":12.6,"y":19.67}]},"mark":{"type":"point","opacity":1,"stroke":"black","strokeWidth":1.2,"size":80},
   "encoding":{"x":{"field":"x","type":"quantitative","axis":null},"y":{"field":"y","type":"quantitative","axis":null},"shape":{"field":"s","type":"nominal","legend":null},"fill":{"field":"t","type":"nominal","legend":null}}},
  {"data":{"values":[{"txt":"corundum-bearing xenoliths","x":11.21,"y":18.57}]},"mark":{"type":"text","fontSize":14,"angle":43,"align":"center","baseline":"middle"},
   "encoding":{"x":{"field":"x","type":"quantitative","axis":null},"y":{"field":"y","type":"quantitative","axis":null},"text":{"field":"txt"}}}
 ],
 "resolve":{"axis":{"x":"independent","y":"independent"}}},
{"width":355,"height":405,
 "layer":[
  {"data":{"name":"shade"},"transform":[{"filter":"datum.p=='Si'"}],"mark":{"type":"line","interpolate":"linear-closed","filled":true,"color":"#b4b4b4","fill":"#b4b4b4","stroke":"#707070","strokeWidth":0.6},
   "encoding":{"x":{"field":"x","type":"quantitative","scale":{"domain":[8,15],"nice":false,"zero":false},"axis":{"orient":"bottom","values":[8,8.5,9,9.5,10,10.5,11,11.5,12,12.5,13,13.5,14,14.5],"labels":false,"ticks":false,"tickSize":0,"title":null}},
   "y":{"field":"y","type":"quantitative","scale":{"domain":[43,54.5],"nice":false,"zero":false},"axis":{"orient":"left","values":[44,45,46,47,48,49,50,51,52,53,54],"labelExpr":"datum.value % 2 == 0 ? format(datum.value,'d') : ''","ticks":false,"tickSize":0,"title":null}},
   "detail":{"field":"id"},"order":{"field":"o"}}},
  {"data":{"name":"env"},"transform":[{"filter":"datum.p=='Si'"}],"mark":{"type":"line","interpolate":"cardinal-closed","color":"black","strokeWidth":1.6},
   "encoding":{"x":{"field":"x","type":"quantitative","axis":{"orient":"top","labels":false,"ticks":false,"title":null}},
   "y":{"field":"y","type":"quantitative","axis":{"orient":"right","labels":false,"ticks":false,"title":null}},"detail":{"field":"id"},"order":{"field":"o"}}},
  {"data":{"name":"xt"},"mark":{"type":"rule","color":"black","strokeWidth":1.8},"encoding":{"x":{"field":"v","type":"quantitative","axis":null},"y":{"datum":43,"type":"quantitative","axis":null},"y2":{"datum":43.227}}},
  {"data":{"name":"xt"},"mark":{"type":"rule","color":"black","strokeWidth":1.8},"encoding":{"x":{"field":"v","type":"quantitative","axis":null},"y":{"datum":54.5,"type":"quantitative","axis":null},"y2":{"datum":54.273}}},
  {"data":{"name":"yt"},"transform":[{"filter":"datum.p=='Si'"}],"mark":{"type":"rule","color":"black","strokeWidth":1.8},"encoding":{"y":{"field":"v","type":"quantitative","axis":null},"x":{"datum":8,"type":"quantitative","axis":null},"x2":{"datum":8.158}}},
  {"data":{"name":"yt"},"transform":[{"filter":"datum.p=='Si'"}],"mark":{"type":"rule","color":"black","strokeWidth":1.8},"encoding":{"y":{"field":"v","type":"quantitative","axis":null},"x":{"datum":15,"type":"quantitative","axis":null},"x2":{"datum":14.842}}},
  {"data":{"name":"ties"},"transform":[{"filter":"datum.p=='Si'"}],"mark":{"type":"line","color":"black","strokeWidth":1,"strokeDash":[4,3]},
   "encoding":{"x":{"field":"x","type":"quantitative","axis":null},"y":{"field":"y","type":"quantitative","axis":null},"detail":{"field":"id"}}},
  {"data":{"name":"pts"},"transform":[{"filter":"datum.p=='Si'"}],"mark":{"type":"point","opacity":1,"stroke":"black","strokeWidth":1.2,"size":105},
   "encoding":{"x":{"field":"x","type":"quantitative","axis":null},"y":{"field":"y","type":"quantitative","axis":null},"shape":{"field":"s","type":"nominal","legend":null},"fill":{"field":"t","type":"nominal","legend":null}}},
  {"data":{"name":"lab"},"transform":[{"filter":"datum.p=='Si' && datum.k=='grp'"}],"mark":{"type":"text","fontSize":14.5,"align":"center","baseline":"middle"},
   "encoding":{"x":{"field":"x","type":"quantitative","axis":null},"y":{"field":"y","type":"quantitative","axis":null},"text":{"field":"txt"}}},
  {"data":{"name":"lab"},"transform":[{"filter":"datum.p=='Si' && datum.k=='panel'"}],"mark":{"type":"text","fontSize":21,"align":"center","baseline":"middle"},
   "encoding":{"x":{"field":"x","type":"quantitative","axis":null},"y":{"field":"y","type":"quantitative","axis":null},"text":{"field":"txt"}}}
 ],
 "resolve":{"axis":{"x":"independent","y":"independent"}}},
{"width":350,"height":402,
 "layer":[
  {"data":{"name":"shade"},"transform":[{"filter":"datum.p=='Na'"}],"mark":{"type":"line","interpolate":"linear-closed","filled":true,"color":"#a8a8a8","fill":"#a8a8a8","stroke":"#707070","strokeWidth":0.6},
   "encoding":{"x":{"field":"x","type":"quantitative","scale":{"domain":[8,14.8],"nice":false,"zero":false},"axis":{"orient":"bottom","values":[8,8.5,9,9.5,10,10.5,11,11.5,12,12.5,13,13.5,14,14.5],"labelExpr":"datum.value % 2 == 0 ? format(datum.value,'d') : ''","ticks":false,"tickSize":0,"title":"MgO (wt%)","titlePadding":5}},
   "y":{"field":"y","type":"quantitative","scale":{"domain":[1.0,3.1],"nice":false,"zero":false},"axis":{"orient":"left","values":[1.2,1.4,1.6,1.8,2.0,2.2,2.4,2.6,2.8,3.0],"labelExpr":"round(datum.value*10) % 4 == 0 ? format(datum.value,'.1f') : ''","ticks":false,"tickSize":0,"title":null}},
   "detail":{"field":"id"},"order":{"field":"o"}}},
  {"data":{"name":"env"},"transform":[{"filter":"datum.p=='Na'"}],"mark":{"type":"line","interpolate":"cardinal-closed","color":"black","strokeWidth":1.6},
   "encoding":{"x":{"field":"x","type":"quantitative","axis":{"orient":"top","labels":false,"ticks":false,"title":null}},
   "y":{"field":"y","type":"quantitative","axis":{"orient":"right","labels":false,"ticks":false,"title":null}},"detail":{"field":"id"},"order":{"field":"o"}}},
  {"data":{"name":"xt"},"mark":{"type":"rule","color":"black","strokeWidth":1.8},"encoding":{"x":{"field":"v","type":"quantitative","axis":null},"y":{"datum":1.0,"type":"quantitative","axis":null},"y2":{"datum":1.0418}}},
  {"data":{"name":"xt"},"mark":{"type":"rule","color":"black","strokeWidth":1.8},"encoding":{"x":{"field":"v","type":"quantitative","axis":null},"y":{"datum":3.1,"type":"quantitative","axis":null},"y2":{"datum":3.0582}}},
  {"data":{"name":"yt"},"transform":[{"filter":"datum.p=='Na'"}],"mark":{"type":"rule","color":"black","strokeWidth":1.8},"encoding":{"y":{"field":"v","type":"quantitative","axis":null},"x":{"datum":8,"type":"quantitative","axis":null},"x2":{"datum":8.155}}},
  {"data":{"name":"yt"},"transform":[{"filter":"datum.p=='Na'"}],"mark":{"type":"rule","color":"black","strokeWidth":1.8},"encoding":{"y":{"field":"v","type":"quantitative","axis":null},"x":{"datum":14.8,"type":"quantitative","axis":null},"x2":{"datum":14.645}}},
  {"data":{"name":"ties"},"transform":[{"filter":"datum.p=='Na'"}],"mark":{"type":"line","color":"black","strokeWidth":1,"strokeDash":[4,3]},
   "encoding":{"x":{"field":"x","type":"quantitative","axis":null},"y":{"field":"y","type":"quantitative","axis":null},"detail":{"field":"id"}}},
  {"data":{"name":"pts"},"transform":[{"filter":"datum.p=='Na'"}],"mark":{"type":"point","opacity":1,"stroke":"black","strokeWidth":1.2,"size":105},
   "encoding":{"x":{"field":"x","type":"quantitative","axis":null},"y":{"field":"y","type":"quantitative","axis":null},"shape":{"field":"s","type":"nominal","legend":null},"fill":{"field":"t","type":"nominal","legend":null}}},
  {"data":{"name":"lab"},"transform":[{"filter":"datum.p=='Na' && datum.k=='grp'"}],"mark":{"type":"text","fontSize":14.5,"align":"center","baseline":"middle"},
   "encoding":{"x":{"field":"x","type":"quantitative","axis":null},"y":{"field":"y","type":"quantitative","axis":null},"text":{"field":"txt"}}},
  {"data":{"name":"lab"},"transform":[{"filter":"datum.p=='Na' && datum.k=='panel'"}],"mark":{"type":"text","fontSize":21,"align":"center","baseline":"middle"},
   "encoding":{"x":{"field":"x","type":"quantitative","axis":null},"y":{"field":"y","type":"quantitative","axis":null},"text":{"field":"txt"}}}
 ],
 "resolve":{"axis":{"x":"independent","y":"independent"}}},
{"width":355,"height":402,
 "layer":[
  {"data":{"name":"shade"},"transform":[{"filter":"datum.p=='Ca'"}],"mark":{"type":"line","interpolate":"linear-closed","filled":true,"color":"#b4b4b4","fill":"#b4b4b4","stroke":"#707070","strokeWidth":0.6},
   "encoding":{"x":{"field":"x","type":"quantitative","scale":{"domain":[8,15],"nice":false,"zero":false},"axis":{"orient":"bottom","values":[8,8.5,9,9.5,10,10.5,11,11.5,12,12.5,13,13.5,14,14.5],"labelExpr":"datum.value % 2 == 0 ? format(datum.value,'d') : ''","ticks":false,"tickSize":0,"title":"MgO (wt%)","titlePadding":5}},
   "y":{"field":"y","type":"quantitative","scale":{"domain":[16.5,23.5],"nice":false,"zero":false},"axis":{"orient":"left","values":[17,17.5,18,18.5,19,19.5,20,20.5,21,21.5,22,22.5,23],"labelExpr":"datum.value % 1 == 0 ? format(datum.value,'d') : ''","ticks":false,"tickSize":0,"title":null}},
   "detail":{"field":"id"},"order":{"field":"o"}}},
  {"data":{"name":"env"},"transform":[{"filter":"datum.p=='Ca'"}],"mark":{"type":"line","interpolate":"cardinal-closed","color":"black","strokeWidth":1.6},
   "encoding":{"x":{"field":"x","type":"quantitative","axis":{"orient":"top","labels":false,"ticks":false,"title":null}},
   "y":{"field":"y","type":"quantitative","axis":{"orient":"right","labels":false,"ticks":false,"title":null}},"detail":{"field":"id"},"order":{"field":"o"}}},
  {"data":{"name":"xt"},"mark":{"type":"rule","color":"black","strokeWidth":1.8},"encoding":{"x":{"field":"v","type":"quantitative","axis":null},"y":{"datum":16.5,"type":"quantitative","axis":null},"y2":{"datum":16.639}}},
  {"data":{"name":"xt"},"mark":{"type":"rule","color":"black","strokeWidth":1.8},"encoding":{"x":{"field":"v","type":"quantitative","axis":null},"y":{"datum":23.5,"type":"quantitative","axis":null},"y2":{"datum":23.361}}},
  {"data":{"name":"yt"},"transform":[{"filter":"datum.p=='Ca'"}],"mark":{"type":"rule","color":"black","strokeWidth":1.8},"encoding":{"y":{"field":"v","type":"quantitative","axis":null},"x":{"datum":8,"type":"quantitative","axis":null},"x2":{"datum":8.158}}},
  {"data":{"name":"yt"},"transform":[{"filter":"datum.p=='Ca'"}],"mark":{"type":"rule","color":"black","strokeWidth":1.8},"encoding":{"y":{"field":"v","type":"quantitative","axis":null},"x":{"datum":15,"type":"quantitative","axis":null},"x2":{"datum":14.842}}},
  {"data":{"name":"ties"},"transform":[{"filter":"datum.p=='Ca'"}],"mark":{"type":"line","color":"black","strokeWidth":1,"strokeDash":[4,3]},
   "encoding":{"x":{"field":"x","type":"quantitative","axis":null},"y":{"field":"y","type":"quantitative","axis":null},"detail":{"field":"id"}}},
  {"data":{"name":"pts"},"transform":[{"filter":"datum.p=='Ca'"}],"mark":{"type":"point","opacity":1,"stroke":"black","strokeWidth":1.2,"size":105},
   "encoding":{"x":{"field":"x","type":"quantitative","axis":null},"y":{"field":"y","type":"quantitative","axis":null},"shape":{"field":"s","type":"nominal","legend":null},"fill":{"field":"t","type":"nominal","legend":null}}},
  {"data":{"name":"lab"},"transform":[{"filter":"datum.p=='Ca' && datum.k=='grp'"}],"mark":{"type":"text","fontSize":14.5,"align":"center","baseline":"middle"},
   "encoding":{"x":{"field":"x","type":"quantitative","axis":null},"y":{"field":"y","type":"quantitative","axis":null},"text":{"field":"txt"}}},
  {"data":{"name":"lab"},"transform":[{"filter":"datum.p=='Ca' && datum.k=='panel'"}],"mark":{"type":"text","fontSize":21,"align":"center","baseline":"middle"},
   "encoding":{"x":{"field":"x","type":"quantitative","axis":null},"y":{"field":"y","type":"quantitative","axis":null},"text":{"field":"txt"}}}
 ],
 "resolve":{"axis":{"x":"independent","y":"independent"}}},
{"width":350,"height":218,
 "layer":[
  {"data":{"values":[{"x":-0.55,"x2":10.39,"y":4.94,"y2":10.74}]},"mark":{"type":"rect","fill":"transparent","stroke":"black","strokeWidth":1.5},
   "encoding":{"x":{"field":"x","type":"quantitative","scale":{"domain":[-2.21,4.247],"nice":false,"zero":false},"axis":null},"x2":{"field":"x2"},"y":{"field":"y","type":"quantitative","scale":{"domain":[0,10.9],"reverse":true,"nice":false,"zero":false},"axis":null},"y2":{"field":"y2"}}},
  {"data":{"values":[{"txt":"Sample Symbols","x":4.49,"y":5.99}]},"mark":{"type":"text","fontSize":19,"align":"center","baseline":"middle"},
   "encoding":{"x":{"field":"x","type":"quantitative","axis":null},"y":{"field":"y","type":"quantitative","axis":null},"text":{"field":"txt"}}},
  {"data":{"values":[{"txt":"KL-","y":7.53},{"txt":"core","y":8.73},{"txt":"rim","y":9.76}]},"mark":{"type":"text","fontSize":17,"align":"left","baseline":"middle"},
   "encoding":{"x":{"datum":-0.4,"type":"quantitative","axis":null},"y":{"field":"y","type":"quantitative","axis":null},"text":{"field":"txt"}}},
  {"data":{"name":"samples"},"mark":{"type":"text","fontSize":17,"align":"center","baseline":"middle"},
   "encoding":{"x":{"field":"c","type":"quantitative","axis":null},"y":{"datum":7.53,"type":"quantitative","axis":null},"text":{"field":"s"}}},
  {"data":{"name":"samples"},"mark":{"type":"point","opacity":1,"stroke":"black","strokeWidth":1.2,"size":65,"fill":"black"},
   "encoding":{"x":{"field":"c","type":"quantitative","axis":null},"y":{"datum":8.73,"type":"quantitative","axis":null},"shape":{"field":"s","type":"nominal","legend":null}}},
  {"data":{"name":"samples"},"mark":{"type":"point","opacity":1,"stroke":"black","strokeWidth":1.2,"size":65,"fill":"white"},
   "encoding":{"x":{"field":"c","type":"quantitative","axis":null},"y":{"datum":9.76,"type":"quantitative","axis":null},"shape":{"field":"s","type":"nominal","legend":null}}}
 ]}
],
"columns":2,
"spacing":{"row":0,"column":60},
"bounds":"flush"
}
